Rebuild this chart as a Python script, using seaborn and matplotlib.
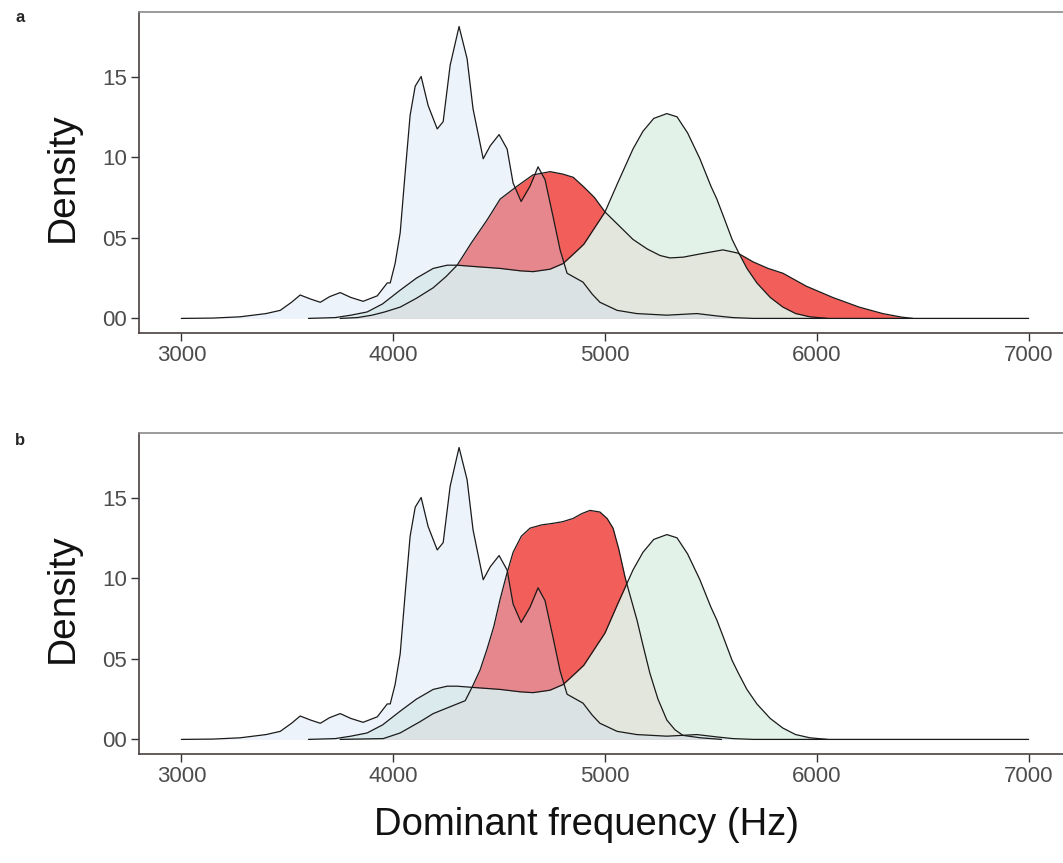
import numpy as np
import pandas as pd
import matplotlib
matplotlib.use("Agg")
import matplotlib.pyplot as plt
import seaborn as sns

# ---------------- data ----------------
lav_x = [3000, 3150, 3278, 3400, 3467, 3520, 3561, 3610, 3656, 3700, 3750, 3800, 3858,
         3925, 3972, 3986, 4009, 4033, 4057, 4080, 4104, 4132, 4165, 4208, 4236, 4269,
         4311, 4349, 4377, 4425, 4458, 4500, 4538, 4566, 4604, 4646, 4684, 4717, 4755,
         4788, 4821, 4896, 4940, 4976, 5057, 5150, 5292, 5434, 5530, 5604, 5700, 7000]
lav_y = [0.0, 0.02, 0.1, 0.3, 0.5, 1.0, 1.45, 1.2, 1.0, 1.35, 1.6, 1.3, 1.06,
         1.4, 2.2, 2.2, 3.4, 5.3, 9.1, 12.6, 14.4, 15.0, 13.2, 11.75, 12.2, 15.7,
         18.1, 16.1, 13.0, 9.9, 10.7, 11.4, 10.5, 8.4, 7.25, 8.2, 9.4, 8.6, 6.3,
         4.25, 2.8, 2.25, 1.5, 1.0, 0.5, 0.3, 0.2, 0.3, 0.15, 0.05, 0.0, 0.0]

grn_x = [3600, 3726, 3800, 3877, 3950, 4033, 4110, 4189, 4255, 4302, 4400, 4505, 4600,
         4660, 4740, 4802, 4860, 4900, 4950, 5000, 5060, 5132, 5179, 5230, 5292, 5340,
         5390, 5448, 5500, 5528, 5560, 5600, 5630, 5670, 5717, 5780, 5840, 5900, 5967, 6050]
grn_y = [0.0, 0.05, 0.2, 0.4, 0.9, 1.75, 2.5, 3.1, 3.3, 3.3, 3.2, 3.1, 2.95,
         2.9, 3.05, 3.4, 4.1, 4.6, 5.6, 6.6, 8.4, 10.5, 11.6, 12.4, 12.7, 12.5,
         11.5, 9.9, 8.2, 7.4, 6.3, 4.9, 4.1, 3.1, 2.2, 1.3, 0.7, 0.3, 0.1, 0.0]

red_a_x = [3750, 3830, 3900, 3960, 4033, 4110, 4189, 4250, 4302, 4370, 4443, 4505, 4585,
           4660, 4741, 4800, 4850, 4900, 4950, 5000, 5070, 5132, 5200, 5260, 5307, 5370,
           5450, 5557, 5627, 5700, 5770, 5840, 5950, 6075, 6200, 6311, 6400, 6453]
red_a_y = [0.0, 0.05, 0.2, 0.4, 0.7, 1.25, 1.9, 2.6, 3.3, 4.7, 6.1, 7.4, 8.2,
           8.9, 9.1, 8.95, 8.75, 8.15, 7.5, 6.6, 5.7, 4.9, 4.3, 3.9, 3.75, 3.8,
           4.0, 4.25, 4.05, 3.5, 3.1, 2.8, 2.0, 1.3, 0.7, 0.3, 0.08, 0.0]

red_b_x = [3750, 3830, 3953, 4033, 4127, 4189, 4283, 4340, 4373, 4410, 4443, 4475, 4505,
           4535, 4566, 4605, 4646, 4700, 4755, 4800, 4849, 4890, 4929, 4976, 5010, 5038,
           5065, 5094, 5104, 5151, 5180, 5212, 5250, 5292, 5330, 5368, 5450, 5550]
red_b_y = [0.0, 0.02, 0.05, 0.4, 1.1, 1.6, 2.1, 2.4, 3.25, 4.3, 5.6, 7.0, 8.7,
           10.2, 11.6, 12.6, 13.1, 13.3, 13.4, 13.5, 13.7, 14.0, 14.2, 14.1, 13.7, 13.1,
           11.8, 10.1, 9.6, 7.4, 5.8, 4.1, 2.5, 1.2, 0.6, 0.25, 0.1, 0.0]

x_ticks = [3000, 4000, 5000, 6000, 7000]
y_ticks = [0, 5, 10, 15]
y_tick_labels = ["00", "05", "10", "15"]
panel_labels = ["a", "b"]

# ---------------- style ----------------
sns.set_style("ticks")
plt.rcParams['font.family'] = ['Liberation Sans', 'DejaVu Sans']

RED = (242/255, 94/255, 90/255)
GREEN = (225/255, 241/255, 232/255)
LAV = (203/255, 219/255, 243/255)

W, H = 1063, 863
fig = plt.figure(figsize=(W/100, H/100), dpi=100)

def px_axes(l, t, r, b):
    return fig.add_axes([l/W, 1 - b/H, (r - l)/W, (b - t)/H])

axes = [px_axes(139, 12, 1071, 333), px_axes(139, 433, 1071, 754)]
reds = [(red_a_x, red_a_y), (red_b_x, red_b_y)]

for ax, (rx, ry), lab in zip(axes, reds, panel_labels):
    ax.fill_between(rx, 0, ry, color=RED, alpha=1.0, lw=0, zorder=1)
    ax.fill_between(grn_x, 0, grn_y, color=GREEN, alpha=0.93, lw=0, zorder=2)
    ax.fill_between(lav_x, 0, lav_y, color=LAV, alpha=0.33, lw=0, zorder=3)
    for xs, ys in [(rx, ry), (grn_x, grn_y), (lav_x, lav_y)]:
        df = pd.DataFrame({"x": xs, "y": ys})
        sns.lineplot(data=df, x="x", y="y", ax=ax, color="#1a1a1a", lw=0.9,
                     sort=False, estimator=None, zorder=4,
                     solid_joinstyle="round")
    ax.set_xlim(2800, 7200)
    ax.set_ylim(-0.905, 19.0)
    ax.set_xticks(x_ticks)
    ax.set_xticklabels([str(t) for t in x_ticks])
    ax.set_yticks(y_ticks)
    ax.set_yticklabels(y_tick_labels)
    ax.set_xlabel("")
    ax.set_ylabel("")
    ax.tick_params(axis="both", labelsize=16, labelcolor="#4d4d4d", color="#333333",
                   length=5.5, width=1.0, pad=3)
    for s in ["left", "bottom"]:
        ax.spines[s].set_color("#4a3f40")
        ax.spines[s].set_linewidth(1.2)
    ax.spines["top"].set_visible(True)
    ax.spines["top"].set_color("#8a8a8a")
    ax.spines["top"].set_linewidth(1.2)
    ax.spines["right"].set_visible(False)

fig.text(15/W, 1 - 17/H, "a", fontsize=12, fontweight="bold", ha="left", va="center")
fig.text(15/W, 1 - 440/H, "b", fontsize=12, fontweight="bold", ha="left", va="center")
fig.text(63/W, 1 - 177/H, "Density", fontsize=28, rotation=90, ha="center", va="center",
         color="#111111")
fig.text(63/W, 1 - 598/H, "Density", fontsize=28, rotation=90, ha="center", va="center",
         color="#111111")
fig.text(586/W, 1 - 825/H, "Dominant frequency (Hz)", fontsize=27.5, ha="center",
         va="center", color="#111111")

fig.savefig("out.png", dpi=100)
